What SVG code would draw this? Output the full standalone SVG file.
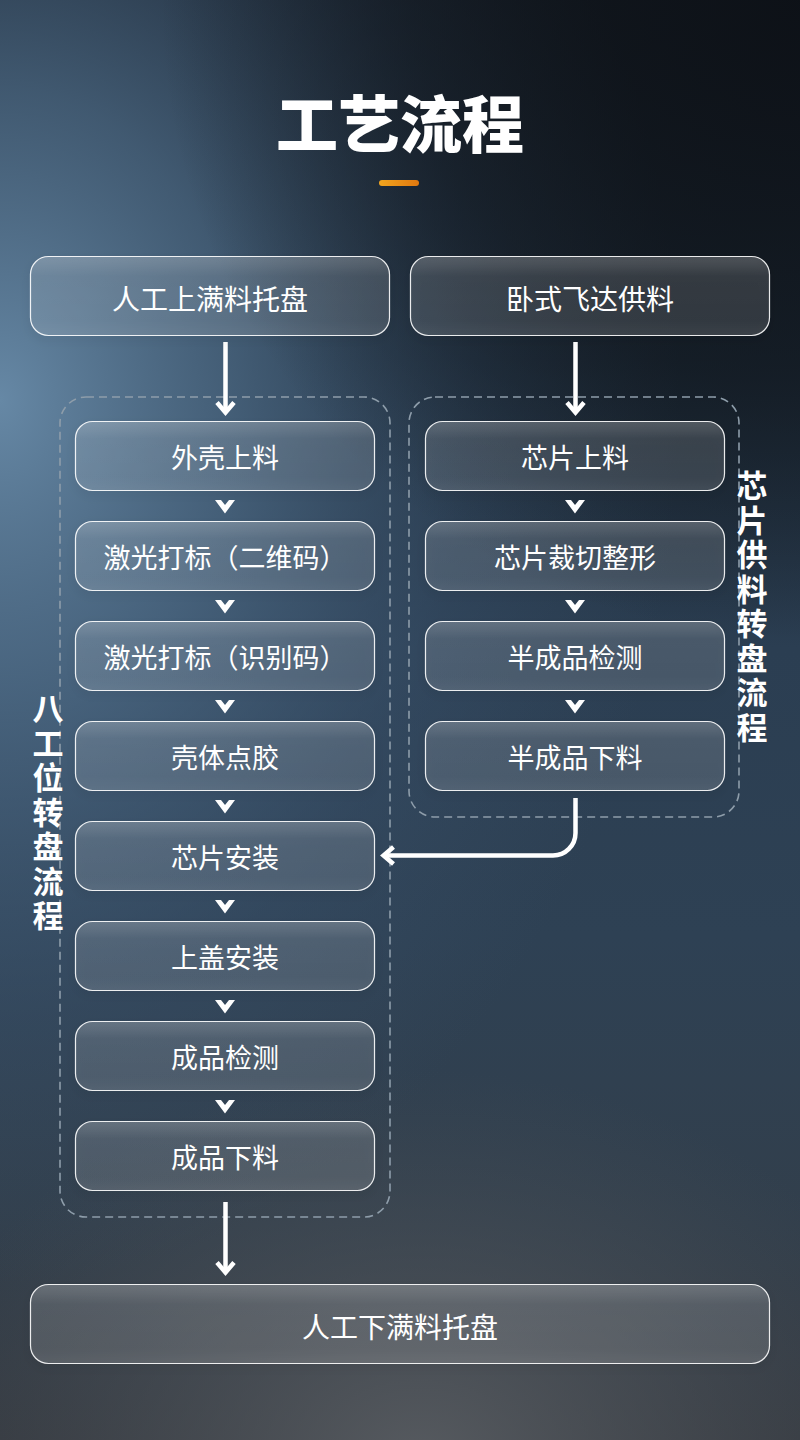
<svg xmlns="http://www.w3.org/2000/svg" xmlns:xlink="http://www.w3.org/1999/xlink" width="800" height="1440" viewBox="0 0 800 1440">
  <defs>
    <linearGradient id="bgBase" x1="0" y1="0" x2="0" y2="1">
      <stop offset="0" stop-color="#131921"/>
      <stop offset="0.25" stop-color="#1b2835"/>
      <stop offset="0.45" stop-color="#2b3e52"/>
      <stop offset="0.65" stop-color="#2e4154"/>
      <stop offset="0.85" stop-color="#323f4c"/>
      <stop offset="1" stop-color="#353a41"/>
    </linearGradient>
    <radialGradient id="bgBlue" cx="0" cy="400" r="680" gradientUnits="userSpaceOnUse" gradientTransform="translate(0,400) scale(1,1.3) translate(0,-400)">
      <stop offset="0" stop-color="#6a8dab" stop-opacity="0.95"/>
      <stop offset="0.35" stop-color="#4f6d89" stop-opacity="0.75"/>
      <stop offset="0.7" stop-color="#3c5570" stop-opacity="0.35"/>
      <stop offset="1" stop-color="#3a5068" stop-opacity="0"/>
    </radialGradient>
    <radialGradient id="bgDark" cx="800" cy="0" r="640" gradientUnits="userSpaceOnUse">
      <stop offset="0" stop-color="#0d1117" stop-opacity="0.95"/>
      <stop offset="0.6" stop-color="#0f141a" stop-opacity="0.55"/>
      <stop offset="1" stop-color="#0f141a" stop-opacity="0"/>
    </radialGradient>
    <radialGradient id="bgGrey" cx="420" cy="1460" r="520" gradientUnits="userSpaceOnUse" gradientTransform="translate(420,1460) scale(1,0.75) translate(-420,-1460)">
      <stop offset="0" stop-color="#5a5e63" stop-opacity="0.9"/>
      <stop offset="1" stop-color="#4a4f55" stop-opacity="0"/>
    </radialGradient>
    <linearGradient id="bar" x1="0" y1="0" x2="1" y2="0">
      <stop offset="0" stop-color="#f2a51f"/>
      <stop offset="1" stop-color="#e0780f"/>
    </linearGradient>
    <linearGradient id="glass" x1="0" y1="0" x2="0" y2="1">
      <stop offset="0" stop-color="#ffffff" stop-opacity="0.24"/>
      <stop offset="0.25" stop-color="#ffffff" stop-opacity="0.13"/>
      <stop offset="0.8" stop-color="#ffffff" stop-opacity="0.12"/>
      <stop offset="1" stop-color="#ffffff" stop-opacity="0.15"/>
    </linearGradient>
    <filter id="shadow" x="-10%" y="-20%" width="120%" height="150%">
      <feDropShadow dx="0" dy="4" stdDeviation="5" flood-color="#000000" flood-opacity="0.22"/>
    </filter>
    <marker id="head" markerUnits="userSpaceOnUse" markerWidth="30" markerHeight="30" viewBox="-15 -15 30 30" refX="0" refY="0" orient="auto" overflow="visible">
      <path d="M-7,-8.5 L3,0 L-7,8.5" fill="none" stroke="#ffffff" stroke-width="4.5" stroke-linejoin="miter" stroke-miterlimit="10"/>
    </marker>
    <polygon id="chev" points="-10,0 -4,0 0,5 4,0 10,0 0,13.5" fill="#ffffff"/>
    <style>
      .node rect { fill: url(#glass); stroke: #ffffff; stroke-opacity: 0.9; stroke-width: 1.2; filter: url(#shadow); }
      .node text { font-family: "Noto Sans CJK SC", "Noto Sans", sans-serif; fill: #ffffff; text-anchor: middle; }
      .big text { font-size: 28px; }
      .small text { font-size: 27px; }
      .group { fill: none; stroke: #8e9daa; stroke-width: 1.6; stroke-dasharray: 8 5; }
      .label { font-family: "Noto Sans CJK SC", "Noto Sans", sans-serif; font-size: 31px; font-weight: 700; fill: #ffffff; writing-mode: vertical-rl; letter-spacing: 3.5px; }
      .conn { fill: none; stroke: #ffffff; stroke-width: 4.5; }
    </style>
  </defs>

  <!-- background -->
  <rect x="0" y="0" width="800" height="1440" fill="url(#bgBase)"/>
  <rect x="0" y="0" width="800" height="1440" fill="url(#bgBlue)"/>
  <rect x="0" y="0" width="800" height="1440" fill="url(#bgDark)"/>
  <rect x="0" y="0" width="800" height="1440" fill="url(#bgGrey)"/>

  <!-- title -->
  <g id="title">
    <text x="400" y="148" font-family="Noto Sans CJK SC, sans-serif" font-size="62" font-weight="900" fill="#ffffff" text-anchor="middle">工艺流程</text>
    <rect x="379" y="180" width="40" height="6" rx="3" fill="url(#bar)"/>
  </g>

  <!-- dashed groups -->
  <g id="group-left">
    <rect class="group" x="60" y="397" width="330" height="820" rx="26"/>
    <text class="label" x="48" y="693">八工位转盘流程</text>
  </g>
  <g id="group-right">
    <rect class="group" x="409" y="397" width="330" height="420" rx="26"/>
    <text class="label" x="752" y="470">芯片供料转盘流程</text>
  </g>

  <!-- connectors -->
  <g id="connectors">
    <path class="conn" d="M225.5,342 V409.5" marker-end="url(#head)"/>
    <path class="conn" d="M575.5,342 V409.5" marker-end="url(#head)"/>
    <path class="conn" d="M575.5,798 V833 A22.5,22.5 0 0 1 553,855.5 H386.5" marker-end="url(#head)"/>
    <path class="conn" d="M225.5,1202 V1269.5" marker-end="url(#head)"/>
    <use href="#chev" x="225" y="500"/>
    <use href="#chev" x="225" y="600"/>
    <use href="#chev" x="225" y="700"/>
    <use href="#chev" x="225" y="800"/>
    <use href="#chev" x="225" y="900"/>
    <use href="#chev" x="225" y="1000"/>
    <use href="#chev" x="225" y="1100"/>
    <use href="#chev" x="575" y="500"/>
    <use href="#chev" x="575" y="600"/>
    <use href="#chev" x="575" y="700"/>
  </g>

  <!-- top nodes -->
  <g id="n-top-left" class="node big">
    <rect x="30.5" y="256.5" width="359" height="79" rx="18"/>
    <text x="210" y="310">人工上满料托盘</text>
  </g>
  <g id="n-top-right" class="node big">
    <rect x="410.5" y="256.5" width="359" height="79" rx="18"/>
    <text x="590" y="310">卧式飞达供料</text>
  </g>

  <!-- left column -->
  <g id="n-l1" class="node small">
    <rect x="75.5" y="421.5" width="299" height="69" rx="17"/>
    <text x="225" y="468">外壳上料</text>
  </g>
  <g id="n-l2" class="node small">
    <rect x="75.5" y="521.5" width="299" height="69" rx="17"/>
    <text x="225" y="568">激光打标（二维码）</text>
  </g>
  <g id="n-l3" class="node small">
    <rect x="75.5" y="621.5" width="299" height="69" rx="17"/>
    <text x="225" y="668">激光打标（识别码）</text>
  </g>
  <g id="n-l4" class="node small">
    <rect x="75.5" y="721.5" width="299" height="69" rx="17"/>
    <text x="225" y="768">壳体点胶</text>
  </g>
  <g id="n-l5" class="node small">
    <rect x="75.5" y="821.5" width="299" height="69" rx="17"/>
    <text x="225" y="868">芯片安装</text>
  </g>
  <g id="n-l6" class="node small">
    <rect x="75.5" y="921.5" width="299" height="69" rx="17"/>
    <text x="225" y="968">上盖安装</text>
  </g>
  <g id="n-l7" class="node small">
    <rect x="75.5" y="1021.5" width="299" height="69" rx="17"/>
    <text x="225" y="1068">成品检测</text>
  </g>
  <g id="n-l8" class="node small">
    <rect x="75.5" y="1121.5" width="299" height="69" rx="17"/>
    <text x="225" y="1168">成品下料</text>
  </g>

  <!-- right column -->
  <g id="n-r1" class="node small">
    <rect x="425.5" y="421.5" width="299" height="69" rx="17"/>
    <text x="575" y="468">芯片上料</text>
  </g>
  <g id="n-r2" class="node small">
    <rect x="425.5" y="521.5" width="299" height="69" rx="17"/>
    <text x="575" y="568">芯片裁切整形</text>
  </g>
  <g id="n-r3" class="node small">
    <rect x="425.5" y="621.5" width="299" height="69" rx="17"/>
    <text x="575" y="668">半成品检测</text>
  </g>
  <g id="n-r4" class="node small">
    <rect x="425.5" y="721.5" width="299" height="69" rx="17"/>
    <text x="575" y="768">半成品下料</text>
  </g>

  <!-- bottom node -->
  <g id="n-bottom" class="node big">
    <rect x="30.5" y="1284.5" width="739" height="79" rx="18"/>
    <text x="400" y="1338">人工下满料托盘</text>
  </g>
</svg>
